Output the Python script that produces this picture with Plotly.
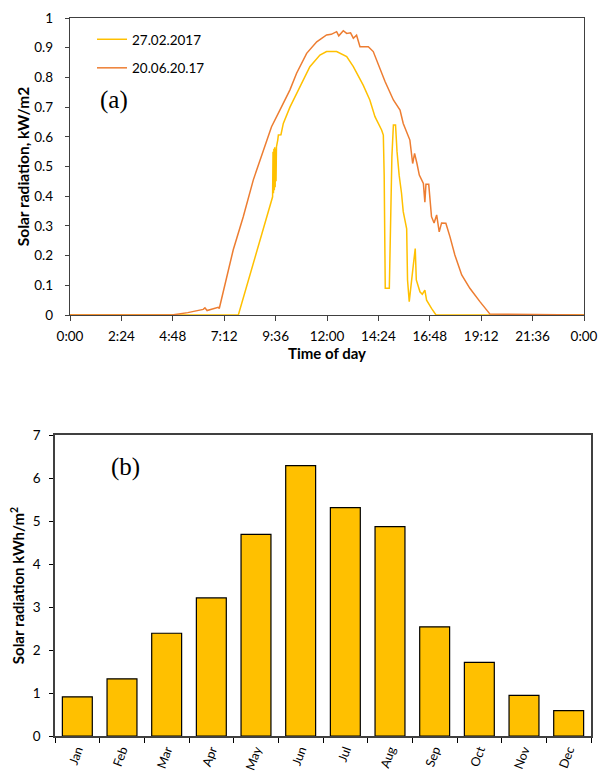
import plotly.graph_objects as go

# ---- Panel (a): daily solar radiation profiles (hours of day, kW/m2) ----
feb_hours = [0, 7.86, 9.46, 9.48, 9.50, 9.52, 9.54, 9.56, 9.58, 9.60, 9.62, 9.64,
             9.70, 9.73, 9.85, 9.96, 10.27, 10.66, 11.2, 11.67, 11.98, 12.45, 12.6,
             12.92, 13.23, 13.69, 14.0, 14.24, 14.55, 14.63, 14.67, 14.72, 14.91,
             14.95, 15.03, 15.10, 15.2, 15.27, 15.37, 15.48, 15.56, 15.72, 15.76,
             15.84, 15.9, 16.03, 16.12, 16.17, 16.34, 16.45, 16.57, 16.65, 16.88,
             17.09, 24]
feb_values = [0, 0, 0.398, 0.55, 0.41, 0.56, 0.42, 0.565, 0.43, 0.56, 0.45, 0.566,
              0.589, 0.606, 0.607, 0.645, 0.70, 0.758, 0.836, 0.875, 0.887, 0.887, 0.881,
              0.87, 0.836, 0.774, 0.724, 0.668, 0.623, 0.606, 0.471, 0.09, 0.09,
              0.27, 0.533, 0.64, 0.64, 0.55, 0.47, 0.41, 0.348, 0.29, 0.118,
              0.045, 0.09, 0.168, 0.224, 0.118, 0.078, 0.07, 0.084, 0.05, 0.022,
              0, 0]

jun_hours = [0, 4.75, 5.5, 6.22, 6.3, 6.4, 6.92, 6.97, 7.62, 8.09, 8.56, 9.03, 9.41,
             9.8, 10.27, 10.58, 11.05, 11.52, 11.98, 12.2, 12.45, 12.55, 12.76, 12.92,
             13.1, 13.23, 13.38, 13.54, 13.93, 14.16, 14.47, 14.71, 15.1, 15.41,
             15.56, 15.87, 16.0, 16.09, 16.2, 16.31, 16.5, 16.57, 16.62, 16.75, 16.88,
             17.0, 17.12, 17.24, 17.35, 17.55, 17.74, 17.97, 18.29, 18.67, 19.14,
             19.61, 24]
jun_values = [0, 0, 0.008, 0.019, 0.024, 0.015, 0.026, 0.022, 0.219, 0.331, 0.455, 0.556, 0.634,
              0.69, 0.758, 0.814, 0.881, 0.92, 0.943, 0.945, 0.954, 0.94, 0.957, 0.948,
              0.95, 0.932, 0.942, 0.903, 0.903, 0.887, 0.83, 0.786, 0.724, 0.69,
              0.645, 0.589, 0.51, 0.544, 0.51, 0.471, 0.443, 0.38, 0.44, 0.44, 0.331,
              0.31, 0.337, 0.28, 0.31, 0.309, 0.264, 0.202, 0.135, 0.09, 0.045,
              0.003, 0]

time_tickvals = [0, 2.4, 4.8, 7.2, 9.6, 12.0, 14.4, 16.8, 19.2, 21.6, 24]
time_ticktext = ["0:00", "2:24", "4:48", "7:12", "9:36", "12:00", "14:24",
                 "16:48", "19:12", "21:36", "0:00"]
rad_ticks = [0, 0.1, 0.2, 0.3, 0.4, 0.5, 0.6, 0.7, 0.8, 0.9, 1]
rad_ticktext = ["0", "0.1", "0.2", "0.3", "0.4", "0.5", "0.6", "0.7", "0.8", "0.9", "1"]

# ---- Panel (b): monthly average solar radiation (kWh/m2) ----
months = ["Jan", "Feb", "Mar", "Apr", "May", "Jun", "Jul", "Aug", "Sep", "Oct", "Nov", "Dec"]
monthly_values = [0.91, 1.33, 2.39, 3.21, 4.69, 6.29, 5.31, 4.87, 2.54, 1.71, 0.945, 0.59]

YELLOW = "#FFC000"
ORANGE = "#ED7D31"
FONT = "Lato"

W, H = 601, 772


def dx(px):
    return px / W


def dy(py):
    return (H - py) / H


fig = go.Figure()

fig.add_trace(go.Scatter(x=feb_hours, y=feb_values, mode="lines", name="27.02.2017",
                         line=dict(color=YELLOW, width=1.5), legendgroup="a",
                         xaxis="x", yaxis="y"))
fig.add_trace(go.Scatter(x=jun_hours, y=jun_values, mode="lines", name="20.06.20.17",
                         line=dict(color=ORANGE, width=1.5), legendgroup="b",
                         xaxis="x", yaxis="y"))

fig.add_trace(go.Bar(x=months, y=monthly_values, marker=dict(color=YELLOW,
                     line=dict(color="#000000", width=1.2)), showlegend=False,
                     xaxis="x2", yaxis="y2"))

axis_font = dict(family=FONT, size=13.5, color="#000000")

fig.update_layout(
    width=W, height=H,
    margin=dict(l=0, r=0, t=0, b=0, autoexpand=False),
    paper_bgcolor="white", plot_bgcolor="white",
    font=dict(family=FONT, size=13, color="#000000"),
    bargap=0.33,
    xaxis=dict(domain=[dx(70), dx(584)], anchor="y", range=[0, 24], automargin=False,
               tickvals=time_tickvals, ticktext=time_ticktext,
               ticks="outside", ticklen=5, tickcolor="#404040", ticklabelstandoff=4,
               showline=True, linecolor="#404040", linewidth=1.3, mirror=True,
               showgrid=False, zeroline=False, tickfont=axis_font,
               title=dict(text="<b>Time of day</b>",
                          font=dict(family=FONT, size=15, color="#000000"), standoff=2)),
    yaxis=dict(domain=[dy(315), dy(18)], anchor="x", range=[0, 1], automargin=False,
               tickvals=rad_ticks, ticktext=rad_ticktext,
               ticks="outside", ticklen=4, tickcolor="#404040", ticklabelstandoff=9,
               showline=True, linecolor="#404040", linewidth=1.3, mirror=True,
               showgrid=False, zeroline=False, tickfont=axis_font,
               title=dict(text="<b>Solar radiation, kW/m2</b>",
                          font=dict(family=FONT, size=15.5, color="#000000"), standoff=0)),
    xaxis2=dict(domain=[dx(55), dx(591)], anchor="y2", automargin=False,
                ticks="outside", ticklen=5, tickson="boundaries", tickcolor="#000000",
                showline=True, linecolor="#404040", linewidth=1.5, mirror=True,
                showgrid=False, zeroline=False, tickangle=-70,
                tickfont=dict(family=FONT, size=12.5, color="#000000")),
    yaxis2=dict(domain=[dy(736), dy(435)], anchor="x2", range=[0, 7], dtick=1, automargin=False,
                ticks="outside", ticklen=4, tickcolor="#000000", ticklabelstandoff=6,
                showline=True, linecolor="#404040", linewidth=1.5, mirror=True,
                showgrid=False, zeroline=False, tickfont=axis_font,
                title=dict(text="<b>Solar radiation kWh/m<sup>2</sup></b>",
                           font=dict(family=FONT, size=15, color="#000000"), standoff=4)),
    legend=dict(x=dx(92), y=dy(24), xanchor="left", yanchor="top",
                bgcolor="rgba(0,0,0,0)", font=dict(family=FONT, size=13.5, color="#000000"),
                tracegroupgap=8, itemwidth=30),
    annotations=[
        dict(text="(a)", x=0.055, y=0.725, xref="x domain", yref="y domain",
             xanchor="left", yanchor="middle", showarrow=False,
             font=dict(family="Liberation Serif", size=25, color="#000000")),
        dict(text="(b)", x=0.10, y=0.895, xref="x2 domain", yref="y2 domain",
             xanchor="left", yanchor="middle", showarrow=False,
             font=dict(family="Liberation Serif", size=25, color="#000000")),
    ],
)

fig.write_html("out.html", config={"displayModeBar": False},
               post_script="document.body.style.margin='0';document.body.style.overflow='hidden';")
